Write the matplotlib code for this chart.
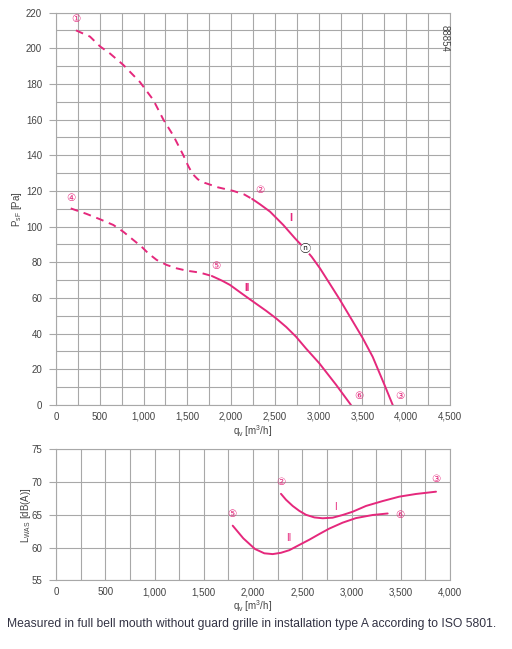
import matplotlib
matplotlib.use("Agg")
import matplotlib.pyplot as plt
from matplotlib.ticker import FuncFormatter, MultipleLocator

plt.rcParams['font.family'] = ['Liberation Sans', 'DejaVu Sans']

PINK = '#e5287c'
GRID = '#a8a8a8'
TXT = '#444444'

# ---- top chart data: pressure curves ----
c1_q = [228, 388, 503, 617, 769, 959, 1111, 1226, 1340, 1454, 1510, 1560,
        1620, 1700, 1850, 2025, 2150, 2240]
c1_p = [210, 206.5, 201, 197, 190.6, 181, 171, 160, 151, 140, 134, 129.5,
        126.5, 124.5, 122, 120, 118, 115.5]

cI_q = [2240, 2330, 2444, 2596, 2730, 2847, 2920, 3015, 3120, 3236, 3388,
        3503, 3617, 3750, 3846]
cI_p = [115.5, 112.5, 108.4, 100.9, 93.4, 87.3, 83.1, 76.6, 68.5, 59.5, 47.0,
        37.5, 27.0, 11.5, 0]

c4_q = [168, 350, 503, 655, 769, 883, 978, 1054, 1150, 1264, 1378, 1492,
        1645, 1780]
c4_p = [110.2, 107.1, 104.1, 100.9, 97.1, 92.5, 88.7, 85, 81.3, 78.5, 76.6,
        75.3, 74.2, 72.3]

cII_q = [1780, 1900, 1987, 2130, 2273, 2400, 2513, 2630, 2741, 2855, 3007,
         3198, 3369]
cII_p = [72.3, 69.6, 67.3, 62.2, 57.2, 52.8, 48.6, 43.7, 38.3, 31.7, 23.4,
         11.4, 0]

# ---- bottom chart data: sound power ----
sI_q = [2284, 2335, 2403, 2470, 2538, 2623, 2707, 2809, 2910, 3012, 3147,
        3317, 3485, 3655, 3858]
sI_L = [68.2, 67.3, 66.35, 65.6, 65.0, 64.6, 64.47, 64.56, 64.97, 65.47,
        66.35, 67.1, 67.77, 68.18, 68.53]

sII_q = [1794, 1902, 2020, 2115, 2200, 2284, 2369, 2470, 2572, 2674, 2775,
         2910, 3046, 3215, 3367]
sII_L = [63.34, 61.4, 59.78, 59.12, 59.0, 59.2, 59.6, 60.4, 61.2, 62.07,
         62.9, 63.8, 64.5, 64.97, 65.2]

W, H = 512, 649
fig = plt.figure(figsize=(W / 100, H / 100), dpi=100)


def box(l, t, r, b):
    return [l / W, 1 - b / H, (r - l) / W, (b - t) / H]


fmt = FuncFormatter(lambda v, p: f"{int(v):,}")


def style(ax, xmax, ymin, ymax, ymajor, yminor):
    ax.set_xlim(0, xmax)
    ax.set_ylim(ymin, ymax)
    ax.xaxis.set_major_locator(MultipleLocator(500))
    ax.xaxis.set_minor_locator(MultipleLocator(250))
    ax.yaxis.set_major_locator(MultipleLocator(ymajor))
    ax.yaxis.set_minor_locator(MultipleLocator(yminor))
    ax.xaxis.set_major_formatter(fmt)
    ax.grid(True, which='both', color=GRID, lw=0.8)
    ax.set_axisbelow(True)
    for s in ax.spines.values():
        s.set_color(GRID)
        s.set_linewidth(0.8)
    ax.tick_params(axis='both', which='major', labelsize=7, colors=GRID,
                   labelcolor=TXT, length=0, pad=5)
    ax.tick_params(axis='y', which='major', length=5, width=0.8)
    ax.tick_params(which='minor', length=0)


line_kw = dict(color=PINK, lw=1.4, solid_joinstyle='round',
               solid_capstyle='round')

# ---- top ----
ax1 = fig.add_axes(box(56, 12.5, 450, 405))
style(ax1, 4500, 0, 220, 20, 10)
ax1.plot(c1_q, c1_p, color=PINK, lw=1.4, ls=(0, (4, 3)))
ax1.plot(c4_q, c4_p, color=PINK, lw=1.4, ls=(0, (4, 3)))
ax1.plot(cI_q, cI_p, **line_kw)
ax1.plot(cII_q, cII_p, **line_kw)

lab_kw = dict(color=PINK, fontsize=7.5, ha='center', va='center',
              family=['DejaVu Sans'])
ax1.text(228, 216.4, '①', **lab_kw)
ax1.text(2330, 120.5, '②', **lab_kw)
ax1.text(3929, 5, '③', **lab_kw)
ax1.text(171, 116, '④', **lab_kw)
ax1.text(1827, 78, '⑤', **lab_kw)
ax1.text(3461, 5, '⑥', **lab_kw)
ax1.text(2684, 105, 'I', color=PINK, fontsize=8, fontweight='bold',
         ha='center', va='center')
ax1.text(2181, 65.6, 'II', color=PINK, fontsize=7, fontweight='bold',
         ha='center', va='center')
ax1.text(2847, 87.3, 'ⓝ', color='#222222', fontsize=8, ha='center',
         va='center', family=['Noto Sans CJK JP', 'DejaVu Sans'],
         bbox=dict(boxstyle='circle,pad=0.02', fc='white', ec='none'))
ax1.text(4440, 213, '88854', rotation=270, fontsize=7, color=TXT,
         ha='center', va='top')
ax1.set_ylabel(r'P$_{\mathregular{sF}}$ [Pa]', fontsize=7, color=TXT,
               labelpad=1.5)
ax1.set_xlabel(r'q$_{\mathregular{v}}$ [m$^{\mathregular{3}}$/h]', fontsize=7,
               color=TXT, labelpad=1)

# ---- bottom ----
ax2 = fig.add_axes(box(56, 449.3, 450, 580.3))
style(ax2, 4000, 55, 75, 5, 5)
ax2.plot(sI_q, sI_L, **line_kw)
ax2.plot(sII_q, sII_L, **line_kw)
ax2.text(1787, 65.1, '⑤', **lab_kw)
ax2.text(2284, 70.0, '②', **lab_kw)
ax2.text(3858, 70.5, '③', **lab_kw)
ax2.text(3492, 65.0, '⑥', **lab_kw)
ax2.text(2832, 66.2, 'I', color=PINK, fontsize=7, ha='center', va='center')
ax2.text(2365, 61.5, 'II', color=PINK, fontsize=7, ha='center', va='center')
ax2.set_ylabel(r'L$_{\mathregular{WAS}}$ [dB(A)]', fontsize=7, color=TXT,
               labelpad=-1)
ax2.set_xlabel(r'q$_{\mathregular{v}}$ [m$^{\mathregular{3}}$/h]', fontsize=7,
               color=TXT, labelpad=1)

fig.text(7 / W, 1 - 624 / H,
         'Measured in full bell mouth without guard grille in installation type A according to ISO 5801.',
         fontsize=8.7, color='#333344', ha='left', va='center')

fig.savefig('out.png', dpi=100)
